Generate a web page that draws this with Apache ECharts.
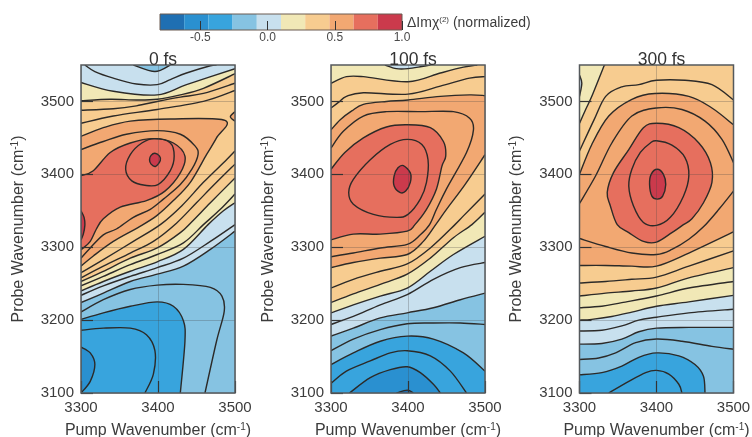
<!DOCTYPE html>
<html><head><meta charset="utf-8">
<style>html,body{margin:0;padding:0;background:#fff}#c{width:752px;height:437px}</style>
<script src="https://cdn.jsdelivr.net/npm/echarts@6/dist/echarts.min.js"></script>
</head><body><div id="c"></div>
<script>
const panelTitles = ['0 fs','100 fs','300 fs'];
const pumpTicks = [3300,3400,3500];
const probeTicks = [3100,3200,3300,3400,3500];
const legendLevels = [-0.8,-0.62,-0.44,-0.26,-0.08,0.1,0.28,0.46,0.64,0.82,1.0];
const legendTicks = [-0.5,0,0.5,1.0];
const bandColors = ['#1f6fb2','#2a90d0','#38a4dd','#86c3e2','#c8e0ee','#f1e8b6','#f7cc90','#f2a872','#e66f5e','#cb3a4c'];

// ---- 0 fs contours [pump, probe]
const a_dark=[[3300,3163],[3312,3155],[3318,3139],[3312,3116],[3300,3100]];
const a_b4=[[3300,3186],[3329,3189],[3364,3189],[3385,3180],[3396,3158],[3394,3126],[3383,3100]];
const a_b3=[[3300,3201],[3329,3210],[3364,3219],[3399,3225],[3420,3219],[3433,3199],[3435,3171],[3429,3100]];
const a_b2=[[3300,3211],[3329,3228],[3364,3242],[3399,3248],[3433,3249],[3468,3245],[3483,3233],[3486,3212],[3476,3171],[3461,3100]];
const a_b1=[[3300,3224],[3329,3237],[3364,3253],[3399,3263],[3433,3274],[3468,3297],[3500,3322]];
const a_d7=[[3300,3234],[3329,3247],[3364,3260],[3399,3272],[3433,3285],[3468,3308],[3500,3331]];
const a_d6=[[3300,3240],[3329,3253],[3364,3267],[3399,3280],[3433,3297],[3465,3331],[3485,3350],[3500,3361]];
const a_d5=[[3300,3247],[3329,3260],[3364,3276],[3399,3290],[3433,3306],[3459,3331],[3481,3352],[3500,3373]];
const a_d4=[[3300,3253],[3329,3267],[3364,3285],[3399,3299],[3429,3320],[3444,3335],[3468,3361],[3500,3395]];
const a_d3=[[3300,3258],[3329,3274],[3364,3292],[3394,3308],[3424,3333],[3450,3361],[3476,3389],[3500,3414]];
const a_d2=[[3300,3265],[3329,3283],[3368,3308],[3403,3331],[3431,3357],[3459,3389],[3489,3420],[3500,3432]];
const a_u1=[[3300,3470],[3342,3480],[3399,3489],[3459,3500],[3500,3515]];
const a_u2=[[3300,3488],[3342,3490],[3372,3494],[3399,3500],[3429,3506],[3459,3511],[3500,3525]];
const a_u3=[[3300,3501],[3338,3503],[3372,3502],[3399,3503],[3429,3509],[3459,3518],[3500,3538]];
const a_u4=[[3300,3526],[3342,3514],[3399,3509],[3437,3523],[3500,3545]];
const a_top=[[3305,3550],[3318,3541],[3342,3532],[3372,3524],[3399,3523],[3416,3530],[3437,3539],[3468,3549],[3476,3550]];
const a_arch=[[3368,3550],[3396,3541],[3416,3550]];
const a_tip=[[3300,3452],[3329,3464],[3364,3473],[3416,3476],[3487,3474],[3476,3450],[3463,3427],[3442,3389],[3420,3364],[3398,3343],[3374,3327],[3342,3308],[3316,3288],[3300,3274]];
const a_d0=[[3300,3434],[3329,3445],[3359,3455],[3399,3460],[3429,3455],[3448,3439],[3452,3427],[3444,3407],[3429,3386],[3407,3366],[3390,3352],[3368,3341],[3346,3325],[3329,3317],[3312,3299],[3300,3285]];
const a_red=[[3300,3398],[3316,3405],[3338,3430],[3364,3443],[3394,3449],[3420,3443],[3435,3425],[3429,3402],[3409,3377],[3385,3364],[3351,3355],[3329,3339],[3320,3325],[3312,3308],[3303,3299],[3300,3297]];
const a_loop=[[3396,3449],[3416,3443],[3421,3425],[3416,3405],[3400,3386],[3383,3385],[3366,3391],[3358,3407],[3364,3427],[3379,3443]];
const a_core=[[3396,3429],[3402,3425],[3403,3419],[3397,3411],[3391,3414],[3389,3420],[3391,3426]];
const a_left=[[3300,3350],[3304,3341],[3305,3330],[3303,3318],[3300,3310]];
const a_right=[[3500,3486],[3494,3479],[3500,3473]];

// ---- 100 fs contours
const b_n1=[[3324,3100],[3351,3121],[3377,3132],[3399,3136],[3416,3128],[3433,3112],[3442,3100]];
const b_n0=[[3385,3100],[3399,3104],[3407,3100]];
const b_n2=[[3300,3113],[3320,3130],[3351,3144],[3377,3155],[3399,3158],[3429,3151],[3455,3130],[3476,3100]];
const b_n3=[[3300,3139],[3329,3155],[3364,3171],[3399,3178],[3433,3174],[3472,3155],[3500,3130]];
const b_n4=[[3300,3158],[3329,3174],[3364,3187],[3399,3195],[3433,3196],[3468,3196],[3500,3194]];
const b_n5=[[3300,3178],[3329,3189],[3364,3203],[3399,3210],[3433,3217],[3468,3228],[3500,3237]];
const b_n6=[[3300,3194],[3329,3205],[3364,3221],[3399,3235],[3433,3256],[3468,3272],[3500,3279]];
const b_f=[[3300,3210],[3329,3221],[3364,3233],[3399,3244],[3429,3267],[3459,3290],[3500,3315]];
const b_e=[[3300,3224],[3329,3236],[3364,3249],[3399,3263],[3429,3285],[3459,3313],[3483,3331],[3500,3348]];
const b_d=[[3300,3244],[3329,3256],[3364,3267],[3399,3277],[3429,3299],[3461,3331],[3472,3343],[3500,3373]];
const b_c=[[3300,3272],[3329,3279],[3364,3285],[3399,3290],[3420,3308],[3436,3331],[3450,3352],[3474,3386],[3500,3427]];
const b_t=[[3300,3287],[3329,3292],[3364,3299],[3399,3304],[3416,3317],[3428,3331],[3437,3352],[3450,3380],[3476,3430],[3485,3461],[3480,3477],[3459,3486],[3416,3486],[3372,3486],[3342,3480],[3316,3459],[3300,3436]];
const b_red=[[3300,3310],[3329,3318],[3364,3318],[3399,3322],[3409,3331],[3424,3352],[3437,3380],[3444,3411],[3449,3425],[3446,3445],[3429,3464],[3399,3468],[3372,3465],[3342,3450],[3318,3430],[3300,3407]];
const b_loop=[[3399,3448],[3418,3441],[3426,3420],[3424,3389],[3416,3366],[3400,3345],[3385,3341],[3355,3345],[3329,3359],[3323,3375],[3329,3393],[3351,3420],[3377,3441]];
const b_core=[[3394,3412],[3403,3402],[3403,3389],[3397,3377],[3390,3375],[3382,3384],[3382,3398],[3387,3409]];
const b_uc=[[3300,3461],[3312,3475],[3327,3487],[3342,3496],[3372,3500],[3400,3502],[3442,3507],[3480,3509],[3500,3508]];
const b_ub=[[3300,3491],[3310,3499],[3320,3507],[3342,3512],[3400,3510],[3442,3521],[3480,3532],[3500,3534]];
const b_ua=[[3300,3525],[3320,3534],[3342,3534],[3400,3527],[3442,3539],[3472,3547],[3490,3550]];
const b_arch=[[3370,3550],[3385,3545],[3400,3545],[3418,3548],[3429,3550]];

// ---- 300 fs contours
const c_s1=[[3338,3100],[3364,3116],[3386,3128],[3400,3131],[3416,3126],[3429,3112],[3433,3100]];
const c_s2=[[3300,3125],[3329,3128],[3355,3137],[3377,3149],[3400,3155],[3429,3151],[3450,3139],[3461,3123],[3463,3100]];
const c_s3=[[3300,3146],[3325,3148],[3347,3155],[3373,3169],[3400,3174],[3433,3171],[3472,3164],[3500,3160]];
const c_s4=[[3300,3167],[3329,3168],[3355,3174],[3377,3184],[3400,3189],[3442,3190],[3500,3190]];
const c_s5=[[3300,3185],[3329,3186],[3355,3192],[3377,3200],[3400,3204],[3442,3210],[3500,3215]];
const c_s6=[[3300,3200],[3316,3201],[3342,3205],[3368,3211],[3400,3219],[3442,3225],[3500,3234]];
const c_s7=[[3300,3217],[3329,3219],[3355,3224],[3400,3233],[3442,3244],[3500,3253]];
const c_s8=[[3300,3233],[3334,3237],[3368,3240],[3400,3244],[3442,3258],[3500,3272]];
const c_s9=[[3300,3251],[3334,3253],[3368,3256],[3400,3259],[3442,3274],[3500,3295]];
const c_s10=[[3300,3275],[3334,3275],[3368,3274],[3400,3274],[3442,3292],[3500,3321]];
const c_s11=[[3300,3312],[3334,3301],[3368,3292],[3400,3290],[3420,3297],[3442,3311],[3461,3328],[3481,3352],[3500,3377]];
const c_big=[[3400,3470],[3429,3464],[3455,3443],[3470,3416],[3472,3389],[3461,3361],[3446,3339],[3435,3331],[3420,3320],[3400,3307],[3383,3308],[3364,3320],[3349,3331],[3340,3357],[3336,3375],[3344,3402],[3364,3434],[3383,3464]];
const c_loop=[[3400,3446],[3420,3440],[3437,3423],[3442,3398],[3435,3370],[3418,3341],[3400,3330],[3383,3334],[3370,3357],[3364,3384],[3368,3407],[3379,3430],[3392,3443]];
const c_core=[[3401,3407],[3409,3400],[3412,3386],[3408,3370],[3401,3366],[3394,3370],[3391,3386],[3393,3400]];
const c_w5=[[3300,3360],[3321,3398],[3342,3443],[3368,3480],[3400,3491],[3433,3489],[3463,3473],[3485,3448],[3500,3416]];
const c_w4=[[3300,3400],[3316,3441],[3338,3480],[3368,3503],[3398,3511],[3442,3507],[3472,3491],[3500,3468]];
const c_w3=[[3300,3432],[3319,3475],[3334,3507],[3355,3520],[3377,3523],[3400,3529],[3437,3529],[3472,3523],[3500,3502]];
const c_w2=[[3300,3470],[3308,3489],[3316,3507],[3332,3549],[3333,3550]];
const c_stub=[[3300,3536],[3303,3525],[3300,3507]];

const plan0=[[a_b3,2,'BL'],[a_b4,-1],[a_dark,1,''],[a_b2,-1],[a_b1,4,'TR TL'],[a_d7,-1],[a_d6,5,'TR TL'],[a_d5,-1],[a_d4,6,'TR TL'],[a_d3,-1],[a_d2,-1],[a_u1,-1],[a_u2,-1],[a_u3,5,'TR TL'],[a_u4,4,'TR TL'],[a_top,-1],[a_arch,3,''],[a_tip,7,''],[a_right,7,''],[a_d0,-1],[a_red,8,''],[a_loop,-1,'loop'],[a_core,9,'loop'],[a_left,9,'']];
const plan1=[[b_n3,2,'BR BL'],[b_n2,-1],[b_n1,1,''],[b_n0,0,''],[b_n4,-1],[b_n5,4,'TR TL'],[b_n6,-1],[b_f,5,'TR TL'],[b_e,6,'TR TL'],[b_d,-1],[b_c,7,'TR TL'],[b_uc,6,'TR TL'],[b_ub,-1],[b_ua,5,'TR TL'],[b_arch,4,''],[b_t,-1],[b_red,8,''],[b_loop,-1,'loop'],[b_core,9,'loop']];
const plan2=[[c_s2,2,'BL'],[c_s1,-1],[c_s3,-1],[c_s4,4,'TR TL'],[c_s5,-1],[c_s6,5,'TR TL'],[c_s7,-1],[c_s8,6,'TR TL'],[c_s9,-1],[c_s10,7,'TR TL'],[c_s11,-1],[c_w5,-1],[c_w4,6,'TR TL'],[c_w3,-1],[c_w2,5,'TL'],[c_stub,4,''],[c_big,8,'loop'],[c_loop,-1,'loop'],[c_core,9,'loop']];
const plans=[plan0,plan1,plan2];

const X0=3300,X1=3500,Y0=3100,Y1=3550;
const corners={BL:[X0,Y0],BR:[X1,Y0],TL:[X0,Y1],TR:[X1,Y1]};
const gridLefts=[81,331,579.5];
const LINE='#2c2a28', TXT='#3c3c3c', FONT='"Liberation Sans",Arial,sans-serif';

function spline(p,closed){
  const n=p.length; let d='M'+p[0][0]+' '+p[0][1];
  const at=i=>closed?p[(i+n)%n]:p[Math.max(0,Math.min(n-1,i))];
  const m=closed?n:n-1;
  for(let i=0;i<m;i++){
    const a=at(i-1),b=at(i),c=at(i+1),e=at(i+2);
    d+=' C'+(b[0]+(c[0]-a[0])/6)+' '+(b[1]+(c[1]-a[1])/6)+' '+(c[0]-(e[0]-b[0])/6)+' '+(c[1]-(e[1]-b[1])/6)+' '+c[0]+' '+c[1];
  }
  return d;
}
function contourSeries(pts,idx,render,z){
  return {type:'custom',xAxisIndex:idx,yAxisIndex:idx,data:pts,dimensions:['pump','probe'],encode:{x:0,y:1},
    silent:true,animation:false,clip:true,z:z,renderItem:render};
}
const series=[];
plans.forEach((plan,idx)=>{
  series.push(contourSeries([[X0,Y0],[X1,Y1]],idx,(pr,api)=>{
    if(pr.dataIndex!==0)return;
    const a=api.coord([X0,Y1]),b=api.coord([X1,Y0]);
    return {type:'rect',shape:{x:a[0],y:a[1],width:b[0]-a[0],height:b[1]-a[1]},style:{fill:bandColors[3]}};
  },1));
  plan.forEach(([pts,band,close])=>{
    if(band>=0) series.push(contourSeries(pts,idx,(pr,api)=>{
      if(pr.dataIndex!==0)return;
      const p=pts.map(q=>api.coord(q));
      let d=spline(p,close==='loop');
      if(close&&close!=='loop') close.split(' ').forEach(k=>{const c=api.coord(corners[k]);d+=' L'+c[0]+' '+c[1];});
      return {type:'path',shape:{pathData:d+' Z'},style:{fill:bandColors[band],stroke:null}};
    },2));
  });
  plan.forEach(([pts,band,close])=>{
    series.push(contourSeries(pts,idx,(pr,api)=>{
      if(pr.dataIndex!==0)return;
      const p=pts.map(q=>api.coord(q));
      return {type:'path',shape:{pathData:spline(p,close==='loop')+(close==='loop'?' Z':'')},style:{fill:null,stroke:LINE,lineWidth:1.4}};
    },3));
  });
  series.push(contourSeries([[X0,Y0],[X1,Y1]],idx,(pr,api)=>{
    if(pr.dataIndex!==0)return;
    const a=api.coord([X0,Y1]),b=api.coord([X1,Y0]);
    return {type:'rect',shape:{x:a[0],y:a[1],width:b[0]-a[0],height:b[1]-a[1]},style:{fill:null,stroke:'#55595c',lineWidth:1.5}};
  },6));
  series[series.length-1].clip=false;
});
const legendBands=legendLevels.slice(0,-1).map((v,i)=>[v,legendLevels[i+1]]);
series.push({type:'custom',xAxisIndex:3,yAxisIndex:3,data:legendBands,dimensions:['lo','hi'],encode:{x:[0,1]},
  silent:true,animation:false,z:2,renderItem:(pr,api)=>{
    const a=api.coord([api.value(0),1]),b=api.coord([api.value(1),0]);
    return {type:'rect',shape:{x:a[0],y:a[1],width:b[0]-a[0],height:b[1]-a[1]},style:{fill:bandColors[pr.dataIndex]}};
  }});
series.push({type:'custom',xAxisIndex:3,yAxisIndex:3,data:[[legendLevels[0],legendLevels[10]]],dimensions:['lo','hi'],encode:{x:[0,1]},
  silent:true,animation:false,z:3,renderItem:(pr,api)=>{
    const a=api.coord([api.value(0),1]),b=api.coord([api.value(1),0]);
    return {type:'rect',shape:{x:a[0],y:a[1],width:b[0]-a[0],height:b[1]-a[1]},style:{fill:null,stroke:'#6a5a50',lineWidth:1}};
  }});

const rich={sup:{fontSize:10,verticalAlign:'top',color:TXT,fontFamily:FONT,padding:[0,0,7,0]},n:{fontSize:16,color:TXT,fontFamily:FONT}};
const grids=gridLefts.map(l=>({left:l,top:65,width:154,height:328,outerBoundsMode:'none'}));
grids.push({left:160,top:14,width:242,height:16,outerBoundsMode:'none'});
const xAxes=gridLefts.map((l,i)=>({gridIndex:i,type:'value',min:X0,max:X1,interval:100,z:5,
  name:'{n|Pump Wavenumber (cm}{sup|-1}{n|)}',nameLocation:'middle',nameGap:29,nameTextStyle:{rich},
  axisLine:{show:false},
  axisTick:{inside:true,length:12,lineStyle:{color:'#333',width:1.2},customValues:pumpTicks},
  axisLabel:{color:TXT,fontSize:15,fontFamily:FONT,margin:7,customValues:pumpTicks,formatter:v=>String(v)},
  splitLine:{show:true,lineStyle:{color:'rgba(70,70,70,0.28)',width:1}}}));
const yAxes=gridLefts.map((l,i)=>({gridIndex:i,type:'value',min:Y0,max:Y1,interval:50,z:5,
  name:'{n|Probe Wavenumber (cm}{sup|-1}{n|)}',nameLocation:'middle',nameGap:54,nameRotate:90,nameTextStyle:{rich},
  axisLine:{show:false},
  axisTick:{inside:true,length:12,lineStyle:{color:'#333',width:1.2},customValues:probeTicks},
  axisLabel:{color:TXT,fontSize:15,fontFamily:FONT,margin:7,customValues:probeTicks,formatter:v=>String(v)},
  splitLine:{show:true,lineStyle:{color:'rgba(70,70,70,0.28)',width:1}}}));
xAxes.push({gridIndex:3,type:'value',min:-0.8,max:1.0,z:5,
  axisLine:{show:false},
  axisTick:{inside:true,length:9,lineStyle:{color:'#333',width:1},customValues:legendTicks},
  axisLabel:{color:'#4a4a4a',fontSize:12,fontFamily:FONT,margin:2,customValues:legendTicks,formatter:v=>Number(v).toFixed(1)},
  splitLine:{show:false}});
yAxes.push({gridIndex:3,type:'value',min:0,max:1,show:false});

const titles=panelTitles.map((t,i)=>({text:t,left:gridLefts[i]+77,top:46,textAlign:'center',
  textStyle:{fontSize:17.5,fontWeight:'normal',color:'#333',fontFamily:FONT}}));
titles.push({text:'{a|\u0394Im\u03c7}{s|(2)}{a| (normalized)}',left:402,top:11,
  textStyle:{fontWeight:'normal',rich:{a:{fontSize:14,fontWeight:'normal',color:'#3c3c3c',fontFamily:FONT},s:{fontSize:8,fontWeight:'normal',color:'#3c3c3c',fontFamily:FONT,verticalAlign:'top',padding:[0,0,6,0]}}}});

const chart=echarts.init(document.getElementById('c'),null,{renderer:'canvas',width:752,height:437});
chart.setOption({animation:false,backgroundColor:'#fff',title:titles,grid:grids,xAxis:xAxes,yAxis:yAxes,series});
</script></body></html>
